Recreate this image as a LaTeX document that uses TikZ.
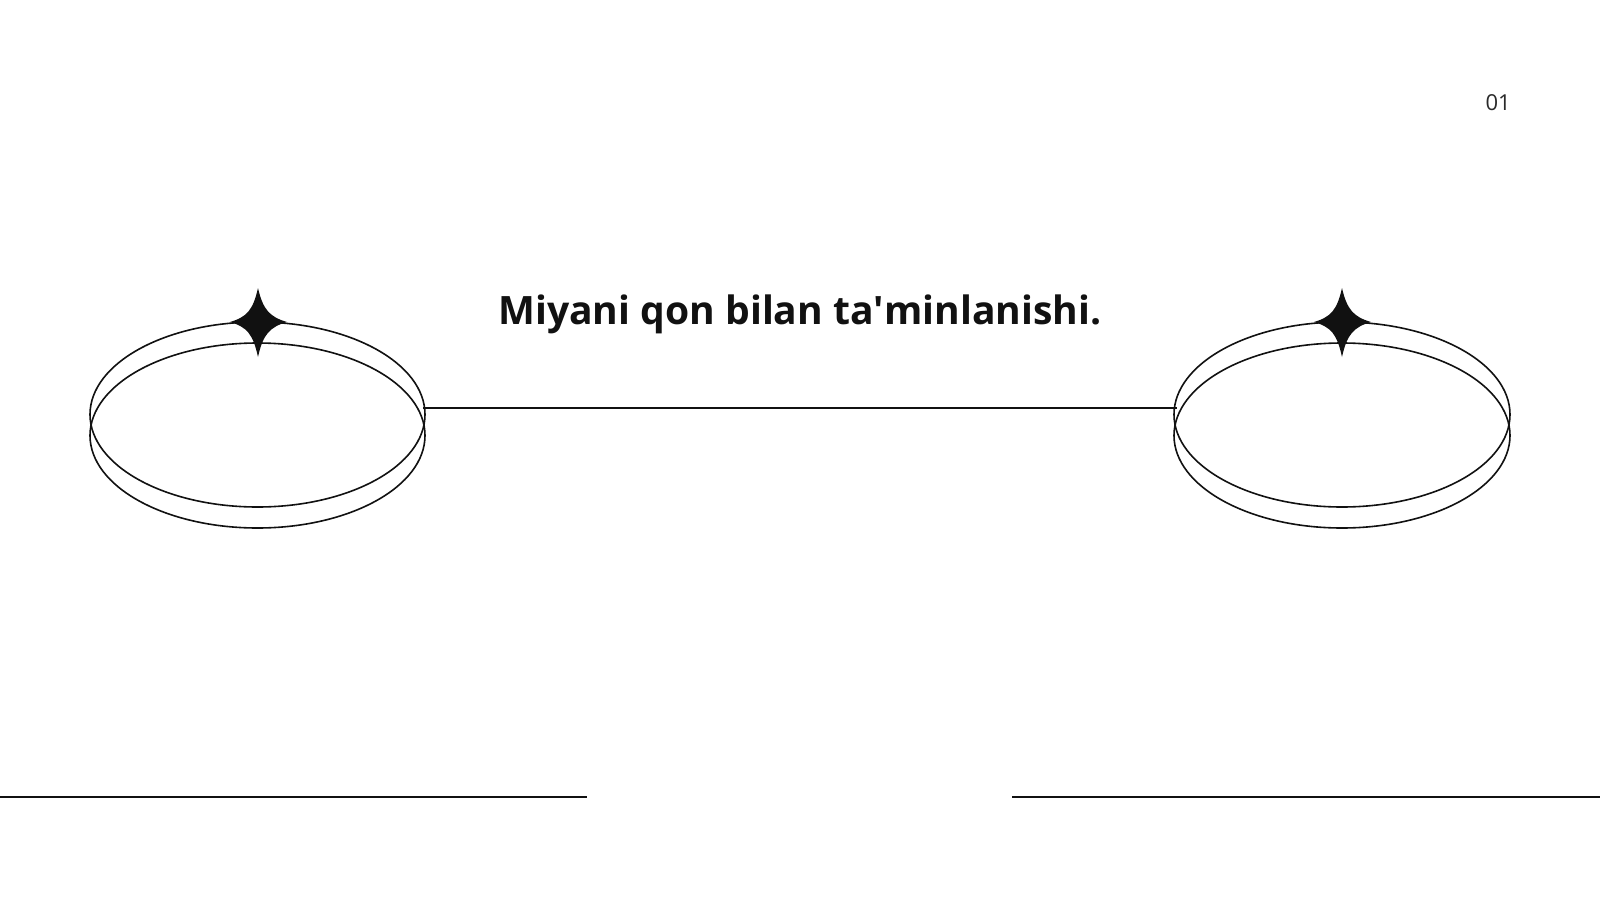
\documentclass[tikz,border=0pt]{standalone}
\usepackage{fontspec}
\setmainfont{Open Sans}
\definecolor{ink}{HTML}{111111}
\definecolor{numgray}{HTML}{2A2A2A}
\begin{document}
\begin{tikzpicture}[x=0.75pt,y=-0.75pt,
  ring/.style={draw=ink,line width=1.2pt},
  rule/.style={draw=ink,line width=1.4pt},
  sparkle/.style={fill=ink,draw=none}]
\useasboundingbox (0,0) rectangle (1600,900);
\fill[white] (0,0) rectangle (1600,900);
% left rings
\draw[ring] (257.5,414.5) ellipse [x radius=167.5, y radius=92.5];
\draw[ring] (257.5,435.5) ellipse [x radius=167.5, y radius=92.5];
% right rings
\draw[ring] (1342,414.5) ellipse [x radius=168, y radius=92.5];
\draw[ring] (1342,435.5) ellipse [x radius=168, y radius=92.5];
% stars
\foreach \cx/\nm in {258/sl,1342/sr}{
  \coordinate (\nm) at (\cx,322);
  \fill[sparkle] (\nm) ++(0,-34)
    .. controls +(5,22) and +(-17,-5) .. ++(29,34)
    .. controls +(-17,5) and +(5,-23) .. ++(-29,35)
    .. controls +(-5,-23) and +(17,5) .. ++(-28,-35)
    .. controls +(17,-5) and +(-5,22) .. ++(28,-34) -- cycle;
}
% connector
\coordinate (la) at (423,408);
\coordinate (lb) at (1177,408);
\draw[ring] (la) -- (lb);
% bottom rules
\coordinate (b1) at (0,797);
\coordinate (b2) at (587,797);
\coordinate (b3) at (1012,797);
\coordinate (b4) at (1600,797);
\draw[rule] (b1) -- (b2);
\draw[rule] (b3) -- (b4);
% texts
\node[anchor=base,inner sep=0,text=ink,font=\bfseries\fontsize{29.3}{34}\selectfont] (title) at (800,324) {Miyani qon bilan ta\textquotesingle minlanishi.};
\node[anchor=base east,inner sep=0,text=numgray,font=\fontsize{16.5}{19}\selectfont] (pg) at (1511,110) {01};
\end{tikzpicture}
\end{document}
